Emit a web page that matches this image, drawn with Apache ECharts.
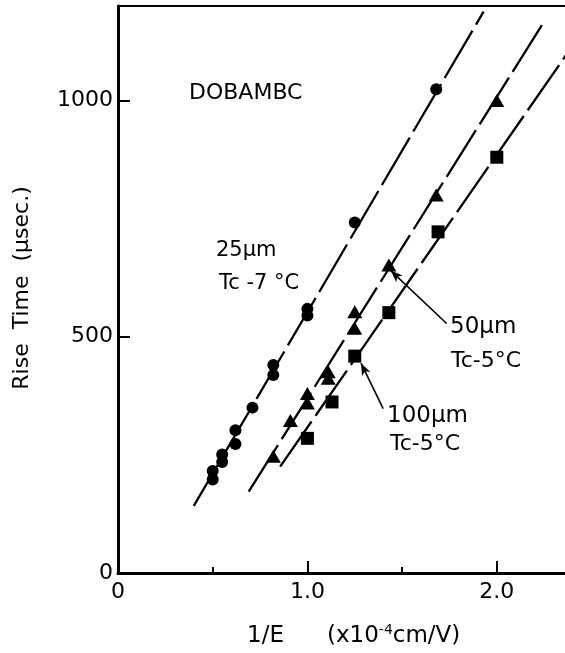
<!DOCTYPE html>
<html><head><meta charset="utf-8">
<script src="https://cdn.jsdelivr.net/npm/echarts@6/dist/echarts.min.js"></script>
<style>html,body{margin:0;padding:0;background:#fff}#c{width:565px;height:653px}</style>
</head><body><div id="c"></div>
<script>
// 25 µm, Tc-7°C (circles)
const circleX = [0.50, 0.50, 0.55, 0.55, 0.62, 0.62, 0.71, 0.82, 0.82, 1.00, 1.00, 1.25, 1.68];
const circleY = [216, 198, 251, 235, 302, 273, 350, 440, 419, 559, 545, 742, 1024];
// 50 µm, Tc-5°C (triangles)
const triX = [0.82, 0.91, 1.00, 1.00, 1.11, 1.11, 1.25, 1.25, 1.43, 1.68, 2.00];
const triY = [247, 323, 380, 360, 426, 412, 553, 518, 652, 800, 1000];
// 100 µm, Tc-5°C (squares)
const sqX = [1.00, 1.13, 1.25, 1.43, 1.69, 2.00];
const sqY = [285, 362, 459, 551, 722, 880];
// fitted lines (end points)
const fit25X = [0.40, 1.93];  const fit25Y = [142, 1188];
const fit50X = [0.69, 2.25];  const fit50Y = [172, 1167];
const fit100X = [0.856, 2.40]; const fit100Y = [225, 1116];
// annotation arrows
const arrow50 = [[1.735, 528], [1.44, 640]];
const arrow100 = [[1.40, 348], [1.283, 444]];
// axis ticks
const xTickVals = [0, 1, 2];      const xTicks = ['0', '1.0', '2.0'];
const xMinorVals = [0.5, 1.5];
const yTickVals = [0, 500, 1000]; const yTicks = ['0', '500', '1000'];

const zip = (xs, ys) => xs.map((x, i) => [x, ys[i]]);
const FONT = '"DejaVu Sans", "Liberation Sans", sans-serif';
const chart = echarts.init(document.getElementById('c'), null, {renderer: 'canvas'});

const fitStyle = {color: '#000', width: 2.3, type: [55, 7]};
const arrowLine = (pts) => ({
  silent: true, symbol: ['none', 'arrow'], symbolSize: [7, 12],
  label: {show: false},
  lineStyle: {color: '#000', width: 1.6, type: 'solid', opacity: 1},
  itemStyle: {color: '#000'},
  data: [[{coord: pts[0]}, {coord: pts[1]}]]
});
const lab = (vals, texts) => v => { const i = vals.indexOf(v); return i >= 0 ? texts[i] : ''; };
const txt = (x, y, text, size) => ({type: 'text', x, y, style: {text, fontFamily: FONT, fontSize: size, fill: '#000', align: 'left', verticalAlign: 'middle'}});

chart.setOption({
  animation: false,
  backgroundColor: '#fff',
  grid: {left: 118, right: 0, top: 6, bottom: 80},
  xAxis: [{
    type: 'value', min: 0, max: 2.36, interval: 1,
    axisLine: {lineStyle: {color: '#000', width: 3}},
    axisTick: {inside: true, length: 12, customValues: xTickVals, lineStyle: {color: '#000', width: 2}},
    splitLine: {show: false},
    axisLabel: {color: '#000', fontFamily: FONT, fontSize: 22, margin: 8, customValues: xTickVals, formatter: lab(xTickVals, xTicks)}
  }, {
    type: 'value', position: 'top', min: 0, max: 2.36,
    axisLine: {show: true, onZero: false, lineStyle: {color: '#000', width: 2}},
    axisTick: {show: false}, axisLabel: {show: false}, splitLine: {show: false}
  }, {
    type: 'value', position: 'bottom', offset: 0, min: 0, max: 2.36,
    axisLine: {show: false, onZero: false},
    axisTick: {show: true, inside: true, length: 6, customValues: xMinorVals, lineStyle: {color: '#000', width: 2}},
    axisLabel: {show: false}, splitLine: {show: false}
  }],
  yAxis: {
    type: 'value', min: 0, max: 1200, interval: 500,
    axisLine: {show: true, lineStyle: {color: '#000', width: 3}},
    axisTick: {show: true, inside: true, length: 12, customValues: yTickVals, lineStyle: {color: '#000', width: 2}},
    splitLine: {show: false},
    axisLabel: {color: '#000', fontFamily: FONT, fontSize: 22, margin: 5, customValues: yTickVals, formatter: lab(yTickVals, yTicks)}
  },
  series: [
    {type: 'line', data: zip(fit25X, fit25Y), showSymbol: false, symbol: 'none', lineStyle: fitStyle, clip: true, z: 1},
    {type: 'line', data: zip(fit50X, fit50Y), showSymbol: false, symbol: 'none', lineStyle: fitStyle, clip: true, z: 1},
    {type: 'line', data: zip(fit100X, fit100Y), showSymbol: false, symbol: 'none', lineStyle: fitStyle, clip: true, z: 1},
    {type: 'scatter', data: zip(circleX, circleY), symbol: 'circle', symbolSize: 12,
      itemStyle: {color: '#000', opacity: 1}, z: 3},
    {type: 'scatter', data: zip(triX, triY), symbol: 'triangle', symbolSize: [15, 13],
      itemStyle: {color: '#000', opacity: 1}, z: 3, markLine: arrowLine(arrow50)},
    {type: 'scatter', data: zip(sqX, sqY), symbol: 'rect', symbolSize: 13,
      itemStyle: {color: '#000', opacity: 1}, z: 3, markLine: arrowLine(arrow100)}
  ],
  graphic: [
    txt(189, 93, 'DOBAMBC', 22),
    txt(216, 251, '25µm', 21),
    txt(219, 284, 'Tc -7 °C', 21),
    txt(450, 327, '50µm', 23),
    txt(451, 361, 'Tc-5°C', 22),
    txt(387, 416, '100µm', 23),
    txt(390, 444, 'Tc-5°C', 22),
    {type: 'text', x: 22, y: 288, rotation: Math.PI / 2, style: {text: 'Rise  Time  (µsec.)', fontFamily: FONT, fontSize: 22, fill: '#000', align: 'center', verticalAlign: 'middle'}},
    txt(247, 636, '1/E', 23),
    {type: 'text', x: 327, y: 636, style: {
      text: '{a|(x10}{s|-4}{a|cm/V)}', fill: '#000', align: 'left', verticalAlign: 'middle',
      rich: {
        a: {fontFamily: FONT, fontSize: 23, fill: '#000', lineHeight: 26},
        s: {fontFamily: FONT, fontSize: 14, fill: '#000', verticalAlign: 'top', lineHeight: 26, padding: [0, 0, 10, 0]}
      }}}
  ]
});
</script>
</body></html>
